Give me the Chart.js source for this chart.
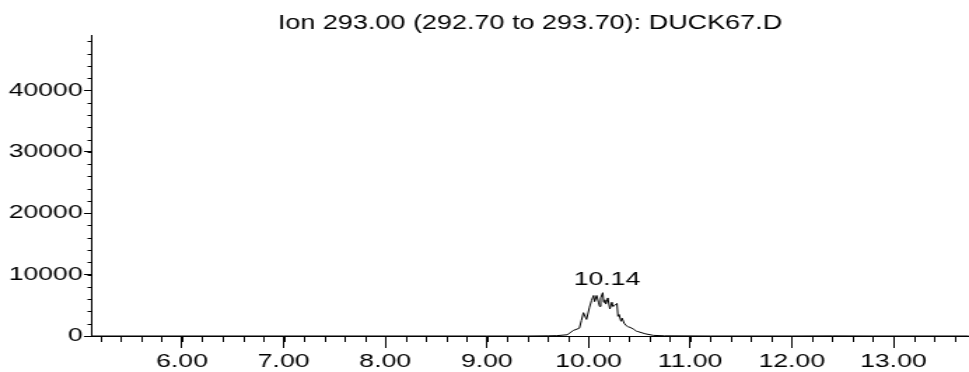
<!DOCTYPE html>
<html>
<head>
<meta charset="utf-8">
<script src="https://cdn.jsdelivr.net/npm/chart.js@4"></script>
<style>
  html, body { margin: 0; padding: 0; background: #fff; overflow: hidden; }
  /* the trace is rendered narrow and stretched sideways, like the instrument export */
  #wrap { width: 692px; height: 372px; transform: scaleX(1.4003); transform-origin: 0 0; }
  #tic { display: block; }
</style>
</head>
<body>
<div id="wrap"><canvas id="tic" width="692" height="372"></canvas></div>
<script>
const titleText = 'Ion 293.00 (292.70 to 293.70): DUCK67.D';

// retention time (min) and abundance
const rt = [5.10, 6.00, 7.00, 8.00, 9.00, 9.40, 9.60, 9.69, 9.79, 9.85, 9.91, 9.93, 9.95, 9.98,
  10.01, 10.03, 10.05, 10.06, 10.08, 10.10, 10.11, 10.12, 10.14, 10.15, 10.16, 10.17, 10.19,
  10.21, 10.23, 10.24, 10.26, 10.28, 10.29, 10.30, 10.32, 10.33, 10.35, 10.37, 10.39, 10.41,
  10.44, 10.47, 10.49, 10.56, 10.64, 10.75, 11.20, 12.00, 12.40, 12.80, 13.74];
const abundance = [0, 0, 0, 0, 0, 0, 30, 60, 200, 900, 1270, 2530, 3800, 2700,
  4700, 5800, 6600, 5600, 6600, 5400, 4800, 6200, 7050, 5500, 5900, 5200, 6200,
  4400, 5500, 4800, 5000, 5300, 3200, 3500, 2400, 2900, 2100, 1700, 1500, 1400,
  1150, 800, 700, 350, 100, 30, 0, 0, 20, 0, 0];

const xTicks = [6, 7, 8, 9, 10, 11, 12, 13];
const yTicks = [0, 10000, 20000, 30000, 40000];
const peakLabel = '10.14';

const FONT = { family: '"Liberation Sans", Arial, sans-serif', size: 19, weight: 'normal' };

// short minor ticks between the labelled ones + the peak annotation
const extras = {
  id: 'extras',
  afterDraw(chart) {
    const c = chart.ctx, xs = chart.scales.x, ys = chart.scales.y;
    const a = chart.chartArea;
    c.save();
    c.strokeStyle = '#000';
    c.lineWidth = 1;
    c.beginPath();
    for (let v = 5.2; v < 13.7; v += 0.2) {
      const px = Math.round(xs.getPixelForValue(v)) + 0.5;
      c.moveTo(px, a.bottom);
      c.lineTo(px, a.bottom + 6);
    }
    for (let v = 2000; v <= 48000; v += 2000) {
      const py = Math.round(ys.getPixelForValue(v)) + 0.5;
      c.moveTo(a.left - 2.5, py);
      c.lineTo(a.left, py);
    }
    c.stroke();

    // retention time over the tallest point
    let k = 0;
    abundance.forEach((v, i) => { if (v > abundance[k]) k = i; });
    const px = xs.getPixelForValue(rt[k]);
    const py = ys.getPixelForValue(abundance[k]);
    c.fillStyle = '#000';
    c.font = FONT.size + 'px ' + FONT.family;
    c.textAlign = 'center';
    c.textBaseline = 'bottom';
    c.fillText(peakLabel, px + 3, py - 3);
    c.restore();
  }
};

new Chart(document.getElementById('tic'), {
  type: 'line',
  data: {
    datasets: [{
      data: rt.map((t, i) => ({ x: t, y: abundance[i] })),
      borderColor: '#000',
      borderWidth: 1,
      pointRadius: 0,
      tension: 0,
      fill: false
    }]
  },
  options: {
    responsive: false,
    devicePixelRatio: 1,
    animation: false,
    layout: { padding: { top: 10, left: 0, right: 0, bottom: 0 } },
    plugins: {
      legend: { display: false },
      tooltip: { enabled: false },
      title: {
        display: true,
        text: titleText,
        fullSize: false,
        color: '#000',
        font: { ...FONT, size: 19.3 },
        padding: { top: 2, bottom: 0 }
      }
    },
    scales: {
      x: {
        type: 'linear',
        min: 5.105,
        max: 13.744,
        afterBuildTicks: s => { s.ticks = xTicks.map(v => ({ value: v })); },
        afterFit: s => { s.height = 36; },
        ticks: {
          color: '#000',
          font: FONT,
          padding: 2,
          maxRotation: 0,
          callback: v => Number(v).toFixed(2)
        },
        grid: { drawOnChartArea: false, tickLength: 12, tickColor: '#000' },
        border: { color: '#000', width: 1 }
      },
      y: {
        min: 0,
        max: 49000,
        afterBuildTicks: s => { s.ticks = yTicks.map(v => ({ value: v })); },
        afterFit: s => { s.width = 65; },
        ticks: {
          color: '#000',
          font: FONT,
          padding: 1,
          callback: v => String(v)
        },
        grid: { drawOnChartArea: false, tickLength: 5, tickColor: '#000' },
        border: { color: '#000', width: 1 }
      }
    }
  },
  plugins: [extras]
});
</script>
</body>
</html>
